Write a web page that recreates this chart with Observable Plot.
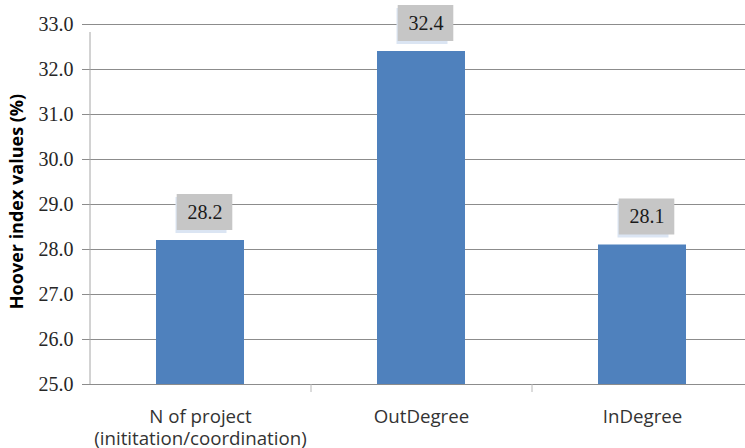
<!DOCTYPE html>
<html>
<head>
<meta charset="utf-8">
<script src="https://cdn.jsdelivr.net/npm/d3@7"></script>
<script src="https://cdn.jsdelivr.net/npm/@observablehq/plot@0.6"></script>
<style>
  html, body { margin: 0; padding: 0; background: #fff; overflow: hidden; }
  #chart svg { display: block; }
</style>
</head>
<body>
<div id="chart"></div>
<script>
// Hoover index per network measure
const categories = ["N of project\n(inititation/coordination)", "OutDegree", "InDegree"];
const values = [28.2, 32.4, 28.1];
const yTicks = [25, 26, 27, 28, 29, 30, 31, 32, 33];
const yTitle = "Hoover index values (%)";

const data = categories.map((c, i) => ({category: c, value: values[i]}));

const W = 745, H = 448;
const marginLeft = 89, marginTop = 24, marginBottom = 64;
const xRange = [89.7, 752.7];
const step = (xRange[1] - xRange[0]) / categories.length;

const gridColor = "#8c8c8c";
const barColor = "#4f81bd";
const sans = "Open Sans";
const serif = "Liberation Serif";
const fmt = d3.format(".1f");

const chart = Plot.plot({
  width: W,
  height: H,
  marginLeft,
  marginRight: 0,
  marginTop,
  marginBottom,
  style: {background: "#fff", overflow: "visible"},
  x: {domain: categories, range: xRange, paddingInner: 0.6, paddingOuter: 0.3, axis: null},
  y: {domain: [yTicks[0], yTicks[yTicks.length - 1]], axis: null},
  marks: [
    Plot.gridY(yTicks, {stroke: gridColor, strokeOpacity: 1, strokeWidth: 1}),
    // vertical value axis line
    Plot.ruleX([categories[0]], {x: d => d, dx: -step / 2, y1: yTicks[0], y2: yTicks[yTicks.length - 1], insetBottom: -8, stroke: "#a6a6a6"}),
    // category dividers below the baseline
    Plot.ruleX(categories.slice(1), {x: d => d, dx: -step / 2, y1: yTicks[0], y2: yTicks[0], insetBottom: -8, stroke: "#b8b8b8"}),
    Plot.barY(data, {x: "category", y1: yTicks[0], y2: "value", fill: barColor}),
    // data label boxes with their soft shadow
    Plot.barY(data, {x: "category", y1: "value", y2: "value", insetTop: -43, insetBottom: 7, insetLeft: 19.5, insetRight: 17.5, fill: "#dbe5f3"}),
    Plot.barY(data, {x: "category", y1: "value", y2: "value", insetTop: -46, insetBottom: 10, insetLeft: 20.7, insetRight: 11.7, fill: "#c6c6c6"}),
    Plot.text(data, {x: "category", y: "value", text: d => fmt(d.value), dx: 4.5, dy: -28, fontFamily: serif, fontSize: 20, fill: "#1a1a1a"}),
    // value axis: tick marks, then labels
    Plot.axisY(yTicks, {tickSize: 7, stroke: gridColor, fill: "none", label: null}),
    Plot.text(yTicks, {y: d => d, text: d => fmt(d), frameAnchor: "left", textAnchor: "end", dx: -16, fontFamily: serif, fontSize: 20, fill: "#262626"}),
    // category labels under the baseline
    Plot.text(categories, {x: d => d, text: d => d, frameAnchor: "bottom", lineAnchor: "top", dy: 22.7, lineHeight: 1.19, fontFamily: sans, fontSize: 18.7, fill: "#333"}),
    Plot.text([yTitle], {frameAnchor: "left", text: d => d, rotate: -90, textAnchor: "middle", dx: -72, dy: -3, fontFamily: sans, fontWeight: "bold", fontSize: 18, fill: "#000"})
  ]
});

document.getElementById("chart").appendChild(chart);
</script>
</body>
</html>
